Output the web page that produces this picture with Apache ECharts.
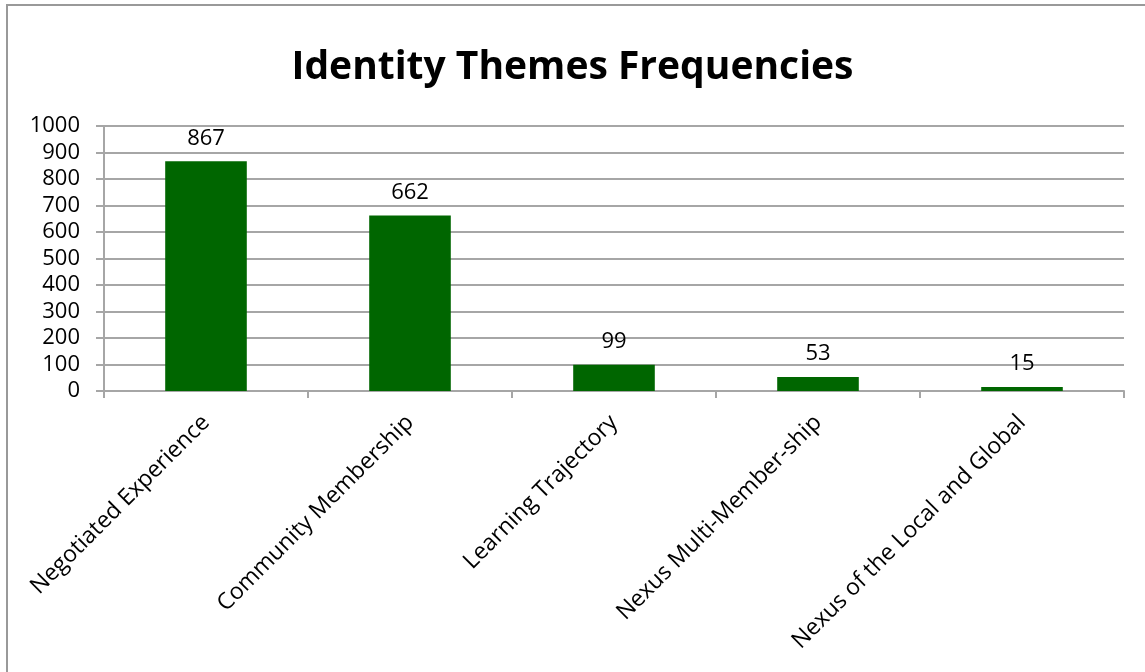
<!DOCTYPE html>
<html><head><meta charset="utf-8">
<script src="https://cdn.jsdelivr.net/npm/echarts@6/dist/echarts.min.js"></script>
<style>html,body{margin:0;padding:0;background:#fff}#c{width:1145px;height:672px}</style>
</head><body><div id="c"></div>
<script>
const categories = ["Negotiated Experience","Community Membership","Learning Trajectory","Nexus Multi-Member-ship","Nexus of the Local and Global"];
const values = [867, 662, 99, 53, 15];
const yTicks = [0,100,200,300,400,500,600,700,800,900,1000];
const titleText = "Identity Themes Frequencies";

const chart = echarts.init(document.getElementById('c'), null, {renderer:'canvas'});
const font = "'Open Sans', 'Liberation Sans', sans-serif";
chart.setOption({
  animation:false,
  backgroundColor:'#fff',
  graphic:[{type:'rect',shape:{x:7,y:5,width:1200,height:700},style:{fill:'none',stroke:'#999',lineWidth:2},z:-1}],
  title:{text:titleText,left:'center',top:43,textStyle:{fontFamily:font,fontSize:39,fontWeight:'bold',color:'#000'}},
  grid:{left:104,right:21,top:126,bottom:281,containLabel:false},
  xAxis:{type:'category',data:categories,
    axisLine:{lineStyle:{color:'#a6a6a6',width:2}},
    axisTick:{show:true,alignWithLabel:false,length:7,lineStyle:{color:'#a6a6a6',width:2}},
    axisLabel:{rotate:45,fontFamily:font,fontSize:23,color:'#000',margin:28,interval:0}},
  yAxis:{type:'value',min:0,max:1000,interval:100,
    axisLine:{show:true,lineStyle:{color:'#a6a6a6',width:2}},
    axisTick:{show:true,length:8,lineStyle:{color:'#a6a6a6',width:2}},
    splitLine:{lineStyle:{color:'#a6a6a6',width:2}},
    axisLabel:{fontFamily:font,fontSize:22,color:'#000',margin:24,
      formatter:v=>yTicks.includes(v)?String(v):''}},
  series:[{type:'bar',data:values,barWidth:'40%',
    itemStyle:{color:'#006600'},
    label:{show:true,position:'top',distance:12,fontFamily:font,fontSize:22,color:'#000'}}]
});
</script></body></html>
